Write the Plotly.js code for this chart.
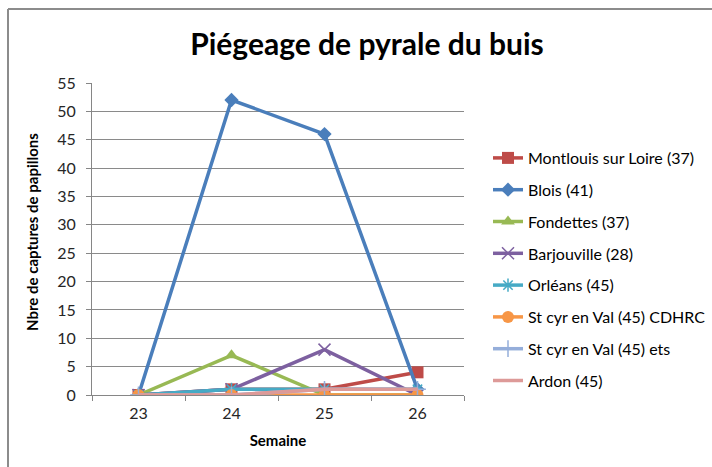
<!DOCTYPE html>
<html>
<head>
<meta charset="utf-8">
<script src="https://cdn.plot.ly/plotly-3.0.1.min.js"></script>
<style>html,body{margin:0;padding:0;background:#fff;}#chart{width:712px;height:467px;}</style>
</head>
<body>
<div id="chart"></div>
<script>
const weeks = ["23", "24", "25", "26"];
const seriesNames = ["Montlouis sur Loire (37)", "Blois (41)", "Fondettes (37)", "Barjouville (28)", "Orléans (45)", "St cyr en Val (45) CDHRC", "St cyr en Val (45) ets", "Ardon (45)"];
const montlouis = [0, 1, 1, 4];
const blois = [0, 52, 46, 1];
const fondettes = [0, 7, 0, 0];
const barjouville = [0, 1, 8, 0];
const orleans = [0, 1, 1, 1];
const stcyrCdhrc = [0, 0, 0, 0];
const stcyrEts = [0, 0, 1, 1];
const ardon = [0, 0, 1, 1];
const yTicks = [0, 5, 10, 15, 20, 25, 30, 35, 40, 45, 50, 55];

const values = [montlouis, blois, fondettes, barjouville, orleans, stcyrCdhrc, stcyrEts, ardon];
const colors = ["#BE4B48", "#4A7EBB", "#98B954", "#7D60A0", "#46AAC5", "#F79646", "#95AEDA", "#DD9A98"];
const symbols = ["square", "diamond", "triangle-up", "x-thin-open", "asterisk-open", "circle", "cross-thin-open", "line-ew-open"];
const sizes = [12, 11, 12, 12, 11, 12, 12, 1];

const traces = values.map((v, i) => ({
  x: weeks, y: v, name: seriesNames[i], type: "scatter", mode: "lines+markers",
  legendgroup: "g" + i,
  line: {color: colors[i], width: 3.5},
  marker: {symbol: symbols[i], size: sizes[i], color: colors[i], line: {color: colors[i], width: (symbols[i].indexOf("open") >= 0 ? 1.5 : 0)}}
}));

const L = 92, R = 464, T = 83, B = 395;
const W = R - L, H = B - T;
const px = v => (v - L) / W;
const py = v => (B - v) / H;
const FONT = "Lato, Liberation Sans, sans-serif";

const layout = {
  width: 712, height: 467,
  margin: {l: L, r: 712 - R, t: T, b: 467 - B, autoexpand: false},
  paper_bgcolor: "#fff", plot_bgcolor: "#fff",
  font: {family: FONT, size: 16, color: "#262626"},
  title: {text: "<b>Piégeage de pyrale du buis</b>", font: {family: FONT, size: 30, color: "#000"}, x: 367 / 712, xref: "container", xanchor: "center", y: 1 - 44 / 467, yref: "container", yanchor: "middle"},
  xaxis: {
    type: "category", tickson: "boundaries", range: [-0.5, 3.5],
    showline: true, linecolor: "#868686", linewidth: 1,
    ticks: "outside", ticklen: 5, tickcolor: "#868686",
    showgrid: false, zeroline: false,
    tickfont: {size: 16, color: "#262626"}, ticklabelstandoff: 4,
    title: {text: "<b>Semaine</b>", font: {size: 15, color: "#000"}, standoff: 14}
  },
  yaxis: {
    range: [0, 55], tickvals: yTicks, ticktext: yTicks.map(String),
    showline: true, linecolor: "#868686", linewidth: 1,
    ticks: "outside", ticklen: 5, tickcolor: "#868686",
    showgrid: true, gridcolor: "#8a8a8a", gridwidth: 1, zeroline: false,
    tickfont: {size: 16, color: "#262626"}, ticklabelstandoff: 7
  },
  annotations: [
    {text: "<b>Nbre de captures de papillons</b>", xref: "paper", yref: "paper", x: px(32), y: py(232), xanchor: "center", yanchor: "middle", textangle: -90, showarrow: false, font: {size: 15, color: "#000"}}
  ],
  legend: {
    x: px(488), y: py(141), xanchor: "left", yanchor: "top",
    font: {size: 16, color: "#000"}, tracegroupgap: 8, traceorder: "grouped",
    itemwidth: 30, bgcolor: "rgba(0,0,0,0)"
  },
  shapes: [
    {type: "line", xref: "paper", yref: "paper", x0: px(8), x1: px(8), y0: py(9), y1: py(470), line: {color: "#8c8c8c", width: 2}},
    {type: "line", xref: "paper", yref: "paper", x0: px(8), x1: px(714), y0: py(9), y1: py(9), line: {color: "#8c8c8c", width: 2}}
  ]
};

Plotly.newPlot("chart", traces, layout, {displayModeBar: false, staticPlot: true});
</script>
</body>
</html>
